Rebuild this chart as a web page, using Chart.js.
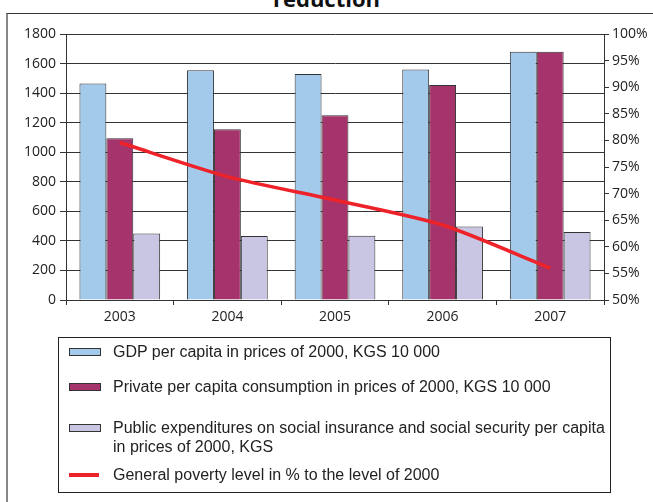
<!DOCTYPE html>
<html>
<head>
<meta charset="utf-8">
<script src="https://cdn.jsdelivr.net/npm/chart.js@4/dist/chart.umd.min.js"></script>
<style>
  html, body { margin: 0; padding: 0; background: #fff; }
  #wrap { position: relative; width: 653px; height: 502px; overflow: hidden; }
  #title { position: absolute; left: 0; width: 653px; top: -13px; text-align: center;
           font: bold 22px/1 'Open Sans', sans-serif; color: #111; }
  #frame { position: absolute; left: 6px; top: 13px; width: 700px; height: 600px;
           border-top: 1px solid #333; border-left: 2px solid #888; }
  #c { position: absolute; left: 0; top: 0; }
  #legend { position: absolute; left: 58px; top: 337px; width: 551px; height: 154px;
            border: 1px solid #222; font: 16px 'Liberation Sans', Arial, sans-serif; color: #222; }
  .item { position: absolute; left: 0; }
  .sw { position: absolute; left: 10px; width: 30px; height: 6px; }
  .txt { position: absolute; left: 54px; white-space: nowrap; line-height: 19px; }
</style>
</head>
<body>
<div id="wrap">
  <div id="title">reduction</div>
  <div id="frame"></div>
  <canvas id="c" width="653" height="502"></canvas>
  <div id="legend"></div>
</div>
<script>
const years = ['2003', '2004', '2005', '2006', '2007'];
const gdp = [1465, 1555, 1530, 1560, 1680];
const privateCons = [1095, 1155, 1250, 1455, 1680];
const publicExp = [450, 433, 435, 498, 460];
const poverty = [79.6, 73.2, 68.8, 64.1, 56.0];
const leftTicks = [0, 200, 400, 600, 800, 1000, 1200, 1400, 1600, 1800];
const rightTicks = [50, 55, 60, 65, 70, 75, 80, 85, 90, 95, 100];

const labelGdp = 'GDP per capita in prices of 2000, KGS 10 000';
const labelPriv = 'Private per capita consumption in prices of 2000, KGS 10 000';
const labelPub = ['Public expenditures on social insurance and social security per capita', 'in prices of 2000, KGS'];
const labelPov = 'General poverty level in % to the level of 2000';

Chart.defaults.font.family = "'Open Sans', sans-serif";
Chart.defaults.font.size = 14;
Chart.defaults.color = '#222';

const axisColor = '#333';

const chart = new Chart(document.getElementById('c'), {
  type: 'bar',
  data: {
    labels: years,
    datasets: [
      { type: 'line', label: labelPov, data: poverty, yAxisID: 'y1', borderColor: '#ee2229',
        borderWidth: 3.5, pointRadius: 0, tension: 0.25, order: 0, fill: false },
      { label: labelGdp, data: gdp, backgroundColor: '#a3c9eb', borderColor: '#333', borderWidth: 1,
        yAxisID: 'y', order: 1, categoryPercentage: 0.75, barPercentage: 1.0 },
      { label: labelPriv, data: privateCons, backgroundColor: '#a5336c', borderColor: '#333', borderWidth: 1,
        yAxisID: 'y', order: 1, categoryPercentage: 0.75, barPercentage: 1.0 },
      { label: labelPub.join(' '), data: publicExp, backgroundColor: '#c9c6e3', borderColor: '#333', borderWidth: 1,
        yAxisID: 'y', order: 1, categoryPercentage: 0.75, barPercentage: 1.0 }
    ]
  },
  options: {
    responsive: false,
    animation: false,
    layout: { padding: { top: 34, left: 0, right: 0, bottom: 172 } },
    plugins: { legend: { display: false }, tooltip: { enabled: false } },
    scales: {
      x: {
        offset: true,
        grid: { drawOnChartArea: false, offset: true, color: axisColor, tickLength: 5 },
        border: { display: true, color: axisColor, width: 1 },
        ticks: { padding: 4, color: '#222' },
        afterFit: s => { s.height = 30; }
      },
      y: {
        position: 'left',
        min: 0, max: 1800,
        afterBuildTicks: s => { s.ticks = leftTicks.map(v => ({ value: v })); },
        grid: { color: axisColor, tickLength: 6 },
        border: { display: true, color: axisColor, width: 1 },
        ticks: { padding: 4, color: '#222', callback: v => String(v) },
        afterFit: s => { s.width = 66; }
      },
      y1: {
        position: 'right',
        min: 50, max: 100,
        afterBuildTicks: s => { s.ticks = rightTicks.map(v => ({ value: v })); },
        grid: { drawOnChartArea: false, color: axisColor, tickLength: 5 },
        border: { display: true, color: axisColor, width: 1 },
        ticks: { padding: 3, color: '#222', callback: v => v + '%' },
        afterFit: s => { s.width = 49; }
      }
    }
  }
});

// HTML legend built from the chart's datasets
const legend = document.getElementById('legend');
const rows = [
  { ds: 1, top: 4, lines: [labelGdp] },
  { ds: 2, top: 39, lines: [labelPriv] },
  { ds: 3, top: 80, lines: labelPub },
  { ds: 0, top: 127, lines: [labelPov] }
];
rows.forEach(r => {
  const ds = chart.data.datasets[r.ds];
  const item = document.createElement('div');
  item.className = 'item';
  item.style.top = r.top + 'px';
  const sw = document.createElement('div');
  sw.className = 'sw';
  if (ds.type === 'line') {
    sw.style.background = ds.borderColor;
    sw.style.height = '4px';
    sw.style.top = '8px';
  } else {
    sw.style.background = ds.backgroundColor;
    sw.style.border = '1px solid #333';
    sw.style.top = '6px';
  }
  const txt = document.createElement('div');
  txt.className = 'txt';
  txt.innerHTML = r.lines.map(l => l.replace(/&/g, '&amp;').replace(/</g, '&lt;')).join('<br>');
  item.appendChild(sw);
  item.appendChild(txt);
  legend.appendChild(item);
});
</script>
</body>
</html>
